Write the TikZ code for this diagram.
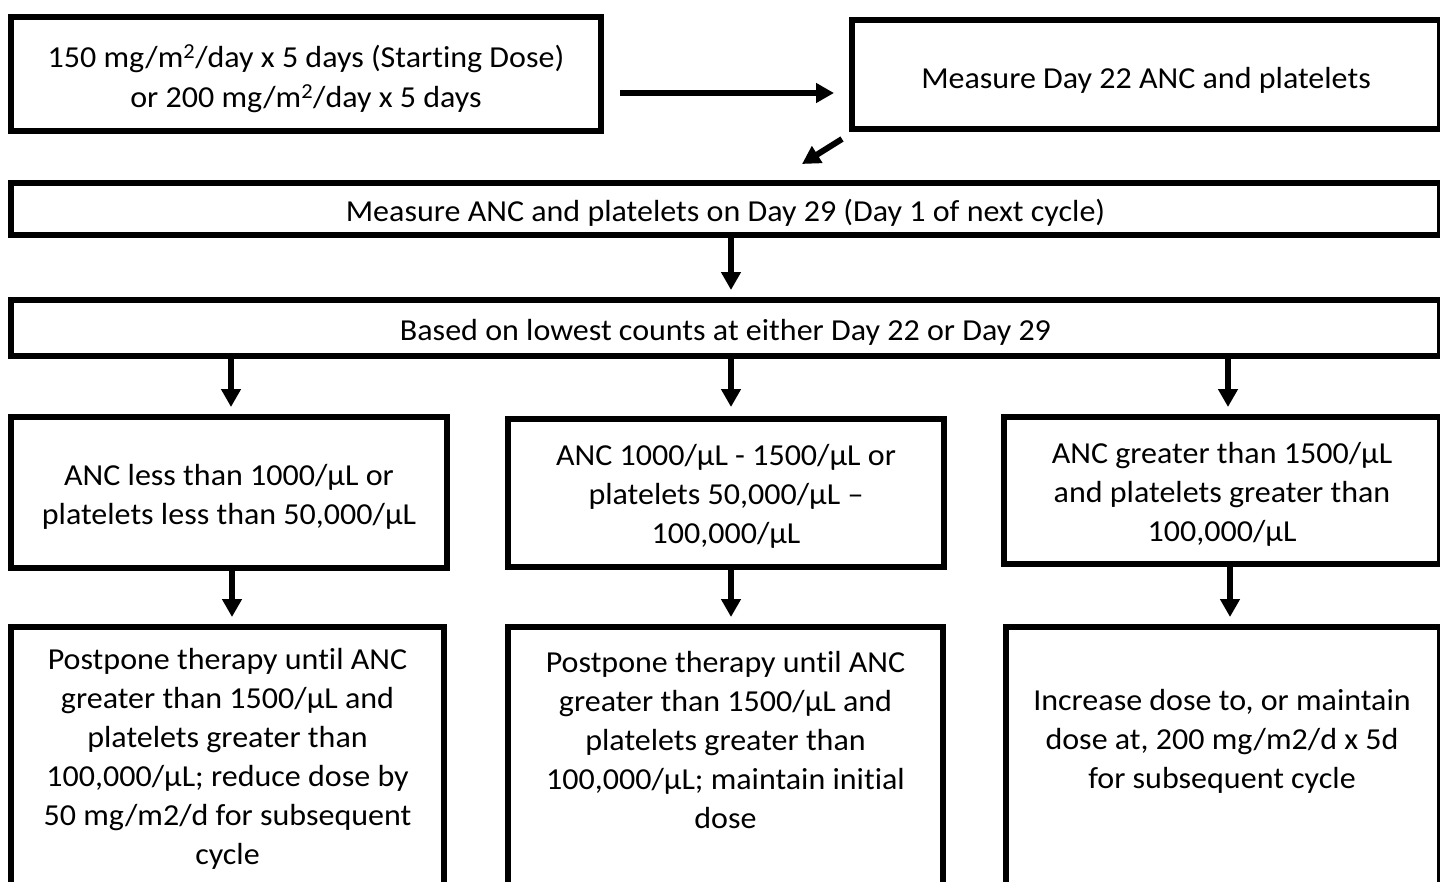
\documentclass[tikz,border=0pt]{standalone}
\usepackage{fontspec}
\setmainfont[FakeStretch=1.05,Ligatures={NoCommon}]{Carlito}
\usetikzlibrary{arrows.meta,calc}
\begin{document}
\begin{tikzpicture}[x=1pt,y=-1pt,
  box/.style={draw=black,line width=6pt,inner sep=0pt},
  txt/.style={align=center,inner sep=0pt,font=\fontsize{30.5}{39}\selectfont},
  arr/.style={line width=6pt,-{Triangle[width=19pt,length=18pt]}}]
\useasboundingbox (0,0) rectangle (1440,881);
% boxes
\node[box,minimum width=590pt,minimum height=114pt] (b1) at (306,74) {};
\node[box,minimum width=588pt,minimum height=109pt] (b2) at (1146,74.5) {};
\node[box,minimum width=1429pt,minimum height=52pt] (b3) at (725.5,209) {};
\node[box,minimum width=1429pt,minimum height=56pt] (b4) at (725.5,328) {};
\node[box,minimum width=436pt,minimum height=151pt] (b5a) at (229,492.5) {};
\node[box,minimum width=436pt,minimum height=148pt] (b5b) at (726,493) {};
\node[box,minimum width=436pt,minimum height=147pt] (b5c) at (1222,490.5) {};
\node[box,anchor=north,minimum width=433pt,minimum height=300pt] (b6a) at (227.5,624) {};
\node[box,anchor=north,minimum width=435pt,minimum height=300pt] (b6b) at (725.5,624) {};
\node[box,anchor=north,minimum width=434pt,minimum height=300pt] (b6c) at (1223,624) {};
% texts
\node[txt,font=\fontsize{30.5}{40}\selectfont] (l1) at ($(b1)+(0,4.5)$)
  {150 mg/m\textsuperscript{2}/day x 5 days (Starting Dose)\\or 200 mg/m\textsuperscript{2}/day x 5 days};
\node[txt] (l2) at ($(b2)+(0,6)$) {Measure Day 22 ANC and platelets};
\node[txt] (l3) at ($(b3)+(0,4)$) {Measure ANC and platelets on Day 29 (Day 1 of next cycle)};
\node[txt] (l4) at ($(b4)+(0,4)$) {Based on lowest counts at either Day 22 or Day 29};
\node[txt] (l5a) at ($(b5a)+(0,4)$) {ANC less than 1000/µL or\\platelets less than 50,000/µL};
\node[txt] (l5b) at ($(b5b)+(0,3)$) {ANC 1000/µL - 1500/µL or\\platelets 50,000/µL –\\100,000/µL};
\node[txt] (l5c) at ($(b5c)+(0,4)$) {ANC greater than 1500/µL\\and platelets greater than\\100,000/µL};
\node[txt] (l6a) at (227.5,758.5)
  {Postpone therapy until ANC\\greater than 1500/µL and\\platelets greater than\\100,000/µL; reduce dose by\\50 mg/m2/d for subsequent\\cycle};
\node[txt] (l6b) at (725.5,740)
  {Postpone therapy until ANC\\greater than 1500/µL and\\platelets greater than\\100,000/µL; maintain initial\\dose};
\node[txt] (l6c) at (1222,741)
  {Increase dose to, or maintain\\dose at, 200 mg/m2/d x 5d\\for subsequent cycle};
% arrow end points
\coordinate (h1) at (620,93);
\coordinate (h2) at (834,93);
\coordinate (d1) at (842,139);
\coordinate (d2) at (802,164);
\coordinate (t0) at (731,290);
\coordinate (t1) at (231,407);
\coordinate (t2) at (731,407);
\coordinate (t3) at (1228,407);
\coordinate (u1) at (232,617);
\coordinate (u2) at (731,617);
\coordinate (u3) at (1230,617);
% arrows
\draw[arr] (h1) -- (h2);
\draw[arr] (d1) -- (d2);
\draw[arr] (b3.south -| t0) -- (t0);
\draw[arr] (b4.south -| t1) -- (t1);
\draw[arr] (b4.south -| t2) -- (t2);
\draw[arr] (b4.south -| t3) -- (t3);
\draw[arr] (b5a.south -| u1) -- (u1);
\draw[arr] (b5b.south -| u2) -- (u2);
\draw[arr] (b5c.south -| u3) -- (u3);
\end{tikzpicture}
\end{document}
